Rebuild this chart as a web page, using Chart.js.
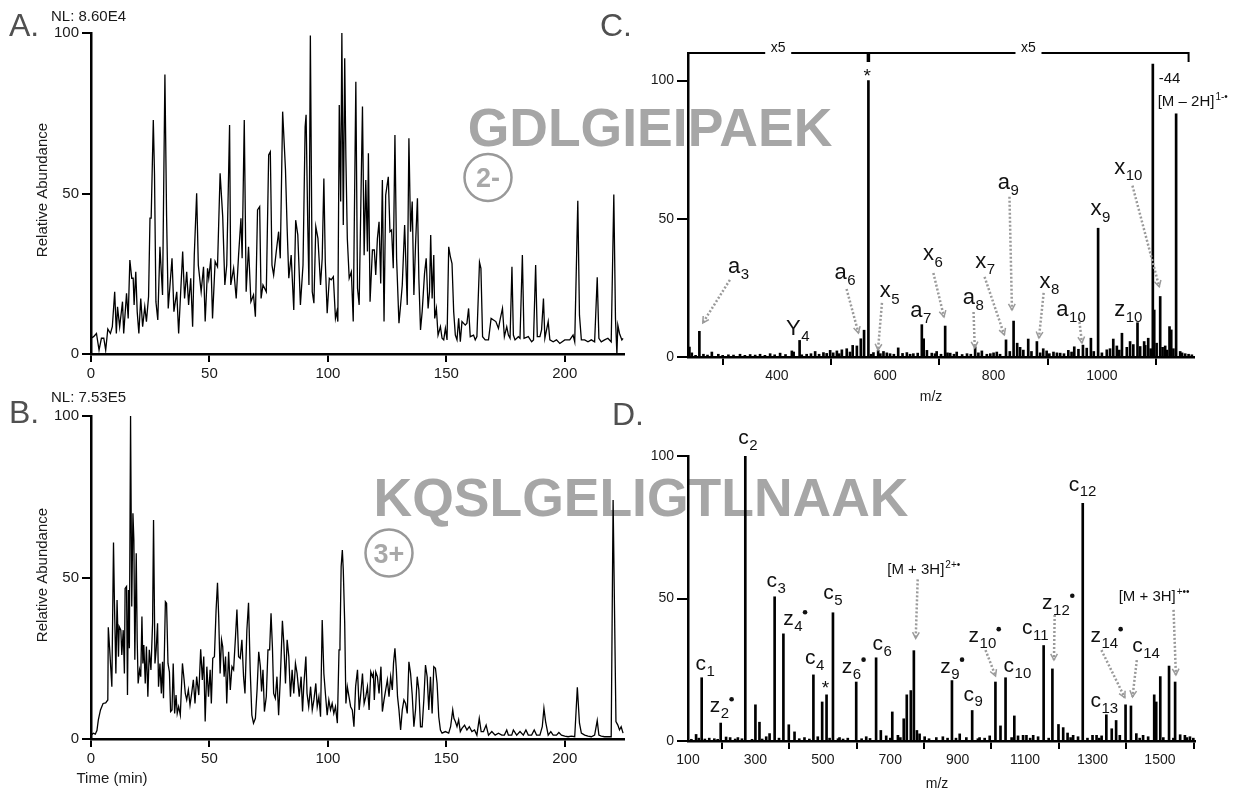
<!DOCTYPE html>
<html lang="en">
<head>
<meta charset="UTF-8">
<title>Chromatograms and MS/MS spectra</title>
<script src="https://cdn.jsdelivr.net/npm/chart.js"></script>
<style>
  body { margin: 0; background: #fff; }
  #page { position: relative; width: 1238px; height: 794px; overflow: hidden; }
  canvas { position: absolute; }
</style>
</head>
<body>
<div id="page">
  <canvas id="decor" width="1238" height="794" style="left:0;top:0"></canvas>
  <canvas id="chartA" width="640" height="390" style="left:0;top:0"></canvas>
  <canvas id="chartB" width="640" height="404" style="left:0;top:390px"></canvas>
  <canvas id="chartC" width="598" height="390" style="left:640px;top:0"></canvas>
  <canvas id="chartD" width="598" height="404" style="left:640px;top:390px"></canvas>
</div>
<script>
// ---- chromatogram A (GDLGIEIPAEK, 2-) ----
const timeA = [
  0, 1.1, 2.3, 3.4, 4.4, 5.4, 6.2, 7.1, 8.2, 9.0,
  10.0, 10.7, 11.2, 12.1, 13.3, 13.8, 15.0, 15.7, 16.4, 17.2,
  17.8, 18.2, 18.9, 19.5, 20.2, 21.0, 21.8, 22.7, 23.4, 24.3,
  24.9, 25.4, 26.3, 26.8, 27.4, 28.2, 29.1, 30.2, 31.2, 31.9,
  32.6, 33.3, 34.2, 35.0, 36.2, 37.0, 38.7, 39.5, 40.4, 41.2,
  42.1, 42.9, 43.6, 44.6, 45.3, 46.5, 47.5, 48.2, 49.2, 49.7,
  50.6, 51.3, 52.4, 53.4, 54.5, 55.6, 56.5, 57.3, 58.5, 59.0,
  60.2, 61.3, 62.3, 63.3, 63.8, 64.7, 65.5, 66.5, 67.5, 68.6,
  69.4, 70.3, 71.2, 71.8, 72.6, 74.0, 75.0, 75.7, 76.4, 77.1,
  78.2, 79.2, 79.9, 80.9, 82.1, 82.8, 83.5, 84.5, 85.6, 86.4,
  87.3, 88.4, 89.5, 90.4, 90.8, 91.5, 92.0, 92.6, 93.4, 94.1,
  94.9, 95.8, 96.9, 97.6, 98.3, 98.9, 99.7, 100.6, 101.4, 102.3,
  103.2, 103.8, 104.2, 104.8, 105.4, 105.9, 106.5, 107.1, 107.6, 108.2,
  109.0, 109.9, 110.7, 111.8, 112.5, 113.2, 114.6, 115.3, 116.0, 116.7,
  117.1, 117.8, 118.8, 119.6, 120.2, 120.9, 121.6, 122.3, 123.0, 123.7,
  124.4, 125.5, 126.2, 126.9, 127.6, 128.3, 129.0, 130.0, 130.7, 131.4,
  132.4, 133.5, 134.2, 134.9, 135.6, 136.3, 137.0, 137.8, 138.4, 139.1,
  139.8, 140.8, 141.5, 142.3, 142.9, 143.4, 144.0, 144.7, 145.1, 145.8,
  146.5, 147.5, 148.2, 148.9, 149.6, 150.3, 151.0, 151.7, 152.4, 153.1,
  153.8, 154.5, 155.2, 155.9, 156.6, 158.0, 158.7, 159.4, 160.1, 161.5,
  162.2, 162.9, 164.0, 164.6, 165.3, 166.4, 167.8, 168.9, 169.9, 170.9,
  172.0, 172.8, 173.7, 174.5, 175.5, 176.2, 176.9, 177.7, 178.3, 179.0,
  180.4, 181.1, 182.1, 182.8, 184.6, 186.0, 186.8, 187.7, 188.4, 189.5,
  190.2, 191.0, 191.6, 193.0, 193.7, 195.1, 196.5, 197.9, 200.0, 202.1,
  203.5, 204.2, 205.5, 206.2, 207.0, 208.4, 209.8, 211.2, 212.6, 213.7,
  214.4, 215.4, 216.8, 218.2, 219.6, 220.7, 221.4, 222.0, 222.4, 223.1,
  224.1, 224.6
];
const abundA = [
  4.9, 5.4, 6.4, 1.2, 4.9, 4.9, 1.2, 7.8, 6.4, 8.5,
  19.4, 6.4, 14.7, 8.5, 16.3, 6.4, 18.9, 11.1, 29.3, 23.6,
  23.6, 15.3, 25.6, 13.2, 6.4, 17.3, 8.5, 14.7, 10.1, 17.9,
  42.3, 42.3, 72.9, 56.3, 16.3, 10.6, 33.4, 18.4, 87.1, 43.3,
  14.2, 21.0, 29.8, 13.2, 19.4, 6.4, 31.9, 17.3, 25.6, 15.3,
  23.6, 8.5, 30.8, 50.1, 27.7, 19.4, 27.2, 10.1, 26.7, 23.6,
  29.8, 11.1, 28.8, 27.2, 56.3, 42.8, 21.5, 27.7, 71.3, 21.5,
  26.7, 17.3, 30.8, 42.3, 29.8, 72.9, 19.4, 33.4, 16.3, 18.4,
  11.6, 44.9, 45.9, 17.3, 21.5, 19.4, 62.0, 63.0, 27.7, 24.6,
  31.9, 38.1, 29.8, 75.5, 57.3, 39.1, 23.6, 30.8, 13.7, 41.7,
  37.1, 15.3, 27.7, 70.8, 74.5, 40.2, 21.5, 99.2, 19.4, 15.8,
  39.7, 36.0, 21.5, 29.8, 54.7, 28.8, 12.7, 23.6, 23.1, 24.1,
  11.1, 13.2, 10.1, 77.6, 47.5, 100, 40.2, 92.1, 61.0, 36.0,
  23.6, 25.6, 10.1, 84.8, 20.5, 15.3, 77.1, 30.8, 54.2, 31.9,
  62.5, 16.3, 32.4, 32.4, 24.6, 36.0, 41.2, 22.0, 54.2, 10.1,
  49.5, 55.2, 38.1, 38.6, 26.7, 68.2, 29.8, 9.6, 15.3, 21.5,
  40.2, 15.3, 67.2, 38.1, 47.5, 18.4, 34.0, 48.5, 23.6, 7.5,
  13.2, 25.1, 29.8, 14.2, 19.4, 37.1, 17.3, 30.8, 11.1, 14.2,
  5.9, 8.5, 4.9, 4.4, 8.0, 4.4, 33.4, 30.3, 28.2, 13.2,
  5.9, 4.4, 11.1, 3.8, 10.1, 9.0, 9.6, 14.2, 5.4, 5.9,
  4.4, 5.4, 28.6, 26.7, 5.4, 4.4, 4.4, 11.1, 10.6, 10.1,
  8.0, 11.1, 14.2, 5.4, 8.5, 5.9, 4.9, 27.2, 5.9, 4.4,
  5.4, 4.9, 30.8, 4.9, 5.4, 3.8, 4.4, 27.7, 5.4, 5.4,
  7.5, 17.3, 4.9, 10.1, 4.4, 3.8, 4.4, 3.3, 4.4, 4.4,
  5.9, 3.8, 47.7, 12.1, 4.4, 4.4, 3.8, 4.4, 3.8, 23.9,
  4.9, 3.8, 4.4, 4.9, 3.8, 49.7, 11.1, 0, 9.0, 6.4,
  4.4, 4.9
];

// ---- chromatogram B (KQSLGELIGTLNAAK, 3+) ----
const timeB = [
  0, 1.0, 1.8, 2.5, 3.1, 4.0, 5.1, 6.2, 7.1, 7.3,
  7.9, 8.8, 9.5, 9.9, 10.5, 11.0, 11.6, 11.9, 12.6, 13.0,
  13.6, 14.1, 14.4, 15.0, 15.4, 15.8, 16.2, 16.7, 17.2, 17.7,
  18.1, 18.5, 19.1, 19.5, 19.9, 20.5, 21.0, 21.5, 21.9, 22.3,
  22.9, 23.4, 24.0, 24.6, 25.3, 26.0, 26.4, 27.0, 27.5, 28.1,
  28.5, 29.1, 29.7, 30.2, 30.6, 31.4, 31.9, 32.5, 33.1, 33.6,
  34.2, 34.7, 35.3, 35.9, 36.4, 37.0, 37.7, 38.6, 39.3, 39.8,
  40.4, 41.1, 41.8, 42.5, 43.2, 43.9, 44.6, 45.5, 46.3, 47.0,
  47.6, 48.2, 48.9, 49.6, 50.3, 50.8, 51.4, 52.1, 52.8, 53.4,
  53.9, 54.5, 55.1, 55.6, 56.2, 56.8, 57.3, 58.1, 58.8, 59.5,
  60.2, 61.0, 61.6, 62.3, 63.0, 63.7, 64.4, 65.0, 65.8, 66.5,
  67.2, 67.9, 68.6, 69.4, 70.1, 70.8, 71.5, 72.0, 72.6, 73.2,
  74.0, 74.7, 75.4, 76.0, 76.6, 77.1, 77.8, 78.5, 79.2, 79.9,
  80.8, 81.4, 82.1, 82.8, 83.5, 84.2, 84.9, 85.6, 86.3, 87.0,
  87.9, 88.7, 89.3, 89.8, 90.7, 91.2, 91.9, 92.7, 93.4, 94.1,
  94.9, 95.5, 96.2, 96.9, 97.6, 98.3, 99.0, 99.7, 100.4, 101.1,
  101.8, 102.5, 103.2, 104.0, 104.7, 105.1, 105.6, 106.1, 106.5, 107.1,
  107.6, 108.2, 108.9, 109.6, 110.3, 111.0, 111.7, 112.5, 113.2, 113.9,
  114.6, 115.3, 116.0, 116.7, 117.4, 118.1, 118.8, 119.2, 119.6, 120.2,
  120.9, 121.6, 122.4, 123.0, 123.7, 124.4, 125.1, 125.8, 126.5, 127.2,
  127.7, 128.3, 128.9, 129.4, 130.0, 130.7, 131.4, 132.1, 132.8, 133.5,
  134.2, 134.9, 135.6, 136.3, 137.0, 137.7, 138.4, 139.1, 139.8, 140.5,
  141.2, 141.9, 142.6, 143.3, 144.0, 144.7, 145.4, 146.1, 146.8, 147.5,
  148.2, 149.6, 151.0, 151.8, 152.7, 153.2, 153.8, 154.5, 155.2, 155.9,
  156.6, 157.7, 158.7, 159.7, 160.8, 161.9, 162.9, 163.9, 164.7, 165.7,
  166.8, 167.8, 169.2, 170.6, 172.0, 173.4, 174.5, 175.5, 176.2, 177.6,
  178.3, 179.7, 181.1, 182.5, 183.6, 184.6, 186.0, 187.1, 188.1, 189.5,
  190.5, 191.2, 191.9, 193.0, 194.1, 195.1, 196.5, 197.5, 198.6, 200.0,
  201.4, 202.8, 204.2, 205.3, 206.2, 207.0, 208.4, 209.8, 211.2, 212.6,
  213.7, 214.4, 215.4, 216.8, 218.2, 219.6, 220.4, 221.6, 222.4, 223.1,
  223.8, 224.6
];
const abundB = [
  1.2, 1.8, 1.5, 2.6, 5.9, 9.0, 11.0, 11.2, 12.1, 34.6,
  27.6, 16.2, 60.8, 42.0, 20.3, 43.0, 25.5, 34.8, 33.7, 26.0,
  33.7, 20.3, 46.6, 47.2, 13.6, 46.1, 28.1, 100, 41.0, 69.9,
  61.6, 24.5, 57.5, 30.7, 17.2, 21.4, 19.3, 37.9, 23.4, 29.1,
  17.2, 28.6, 13.1, 27.6, 21.4, 35.8, 67.8, 23.4, 27.6, 35.8,
  16.2, 23.4, 14.1, 23.9, 12.6, 42.5, 42.0, 23.4, 20.8, 8.5,
  9.0, 23.4, 7.9, 13.6, 7.9, 10.0, 7.4, 23.4, 18.3, 14.1,
  12.1, 15.2, 10.5, 14.1, 18.3, 11.0, 19.3, 13.6, 27.8, 18.3,
  25.5, 5.4, 22.4, 13.1, 21.4, 11.0, 25.0, 25.5, 39.9, 48.4,
  37.9, 20.3, 30.7, 28.6, 19.3, 25.5, 11.0, 27.0, 15.2, 22.4,
  21.4, 31.7, 40.1, 25.5, 25.0, 30.7, 19.3, 14.1, 33.7, 42.2,
  21.4, 7.4, 4.9, 6.4, 15.2, 27.0, 22.4, 14.7, 21.4, 8.5,
  13.1, 27.6, 27.6, 38.9, 28.1, 14.1, 12.6, 19.3, 7.4, 18.3,
  36.6, 29.6, 17.2, 30.7, 25.5, 13.1, 21.4, 14.1, 23.4, 20.3,
  13.1, 19.3, 8.5, 16.2, 25.5, 14.1, 10.0, 16.2, 9.0, 12.1,
  17.2, 10.0, 13.1, 6.9, 36.8, 20.3, 13.6, 7.4, 12.1, 9.0,
  11.0, 7.9, 10.0, 4.9, 27.6, 29.6, 53.4, 58.5, 52.3, 35.8,
  11.0, 16.2, 13.1, 10.0, 9.0, 3.8, 16.2, 21.4, 9.0, 14.1,
  20.3, 11.0, 13.1, 16.2, 9.0, 20.8, 19.3, 20.3, 12.1, 20.8,
  19.3, 14.1, 22.4, 8.5, 12.1, 15.2, 18.3, 13.1, 19.3, 15.2,
  23.4, 28.1, 21.4, 13.1, 9.0, 2.8, 9.0, 12.1, 11.0, 7.9,
  23.9, 20.3, 13.6, 3.8, 9.0, 19.3, 15.2, 3.8, 3.8, 12.1,
  22.9, 19.3, 9.0, 19.3, 7.9, 22.4, 21.9, 17.2, 6.9, 2.8,
  1.8, 2.3, 1.8, 3.8, 9.0, 6.4, 5.4, 3.8, 5.9, 2.3,
  3.3, 4.3, 2.8, 3.8, 2.3, 2.8, 1.2, 6.4, 2.3, 2.3,
  4.3, 1.2, 2.3, 1.2, 1.8, 1.2, 1.2, 2.8, 1.2, 1.2,
  2.8, 1.2, 2.3, 1.2, 2.8, 1.2, 1.2, 2.8, 1.2, 1.2,
  3.8, 9.5, 5.4, 1.2, 2.3, 1.2, 1.2, 2.0, 1.2, 0.9,
  0.7, 0.9, 0.7, 16.0, 4.9, 1.8, 1.2, 0.9, 0.7, 1.2,
  5.7, 1.2, 0.9, 0.7, 0.7, 0.7, 74.0, 5.4, 4.3, 2.8,
  3.8, 1.8
];

// ---- spectrum C (2- precursor) ----
const peakMzC = [238.6, 257, 431, 442, 540, 555, 561, 569, 587, 624,
  667.6, 671, 710.7, 766, 823, 837, 843.6, 864, 880, 891.7,
  949, 965, 979.7, 993, 1021, 1037, 1052, 1065.7, 1078, 1085.5,
  1094, 1096.6, 1107.6, 1124.8, 1128, 1137];
const peakIntC = [3.6, 9.3, 1.8, 6, 4.2, 6.6, 9.7, 100, 2.4, 3.3,
  11.7, 6.6, 11.2, 3.7, 6.2, 13, 5, 6.5, 5.6, 3,
  3.7, 4.3, 6.8, 46.6, 6.5, 8.6, 5.6, 12.4, 5.6, 6.8,
  106, 17, 21.9, 11, 9.8, 88];
const noiseMzC = [243, 250, 264.5, 272, 280, 292, 300, 310.6, 320, 332,
  341, 350.7, 360, 369, 378, 387.6, 396, 406, 416, 427.7,
  446, 455, 463, 470.7, 478, 486, 492, 498.4, 504, 510.8,
  515, 520, 529, 535, 547.7, 574, 578.3, 591, 596.8, 603,
  609, 616, 632, 640, 646, 652, 660, 677, 686, 692,
  695, 703, 715, 720, 727, 732, 742, 751, 758, 772,
  778.4, 787.6, 794, 800, 806, 812, 830, 849, 855, 870,
  886, 898, 903, 910.6, 917, 923, 930, 938, 944, 956.7,
  972, 985, 1000, 1009, 1015, 1027.6, 1032, 1046, 1058, 1070.6,
  1080, 1090, 1101, 1112, 1116.8, 1120, 1132, 1144.5, 1148, 1153.7,
  1160, 1166];
const noiseIntC = [1.5, 0.6, 1.0, 0.7, 1.8, 1.0, 0.6, 0.8, 0.7, 1.0,
  0.6, 0.9, 0.7, 1.0, 0.6, 1.2, 0.8, 1.4, 0.9, 2.2,
  0.8, 1.0, 1.2, 2.0, 1.0, 1.6, 1.3, 2.4, 1.5, 2.2,
  1.2, 2.6, 3.0, 1.8, 4.0, 1.0, 1.6, 1.2, 2.0, 1.5,
  1.2, 1.0, 1.3, 1.6, 1.0, 1.2, 1.4, 2.4, 1.4, 1.2,
  2.0, 1.0, 1.5, 1.4, 1.0, 1.8, 0.9, 1.2, 1.0, 1.5,
  2.2, 1.0, 1.2, 1.5, 1.8, 1.0, 2.0, 3.5, 2.5, 2.0,
  1.5, 2.2, 1.2, 1.8, 1.5, 1.4, 1.2, 2.4, 1.8, 2.8,
  3.2, 2.0, 1.5, 2.6, 3.0, 4.0, 2.5, 3.5, 4.5, 3.8,
  4.2, 3.0, 5.0, 3.5, 4.0, 2.5, 3.0, 2.0, 1.5, 1.2,
  1.0, 0.8];

// ---- spectrum D (3+ precursor) ----
const peakMzD = [124, 140.6, 197, 213, 225, 270, 300, 312, 342, 357,
  383, 399, 416, 472, 498, 511, 530, 599, 658, 672,
  706, 740, 749, 761, 770, 779, 883, 943, 1012, 1027,
  1042, 1068, 1104, 1155, 1181, 1199, 1213, 1226, 1271, 1300,
  1341, 1357, 1370, 1398, 1414, 1430, 1483, 1489, 1501, 1527,
  1545, 1560, 1574];
const peakIntD = [2.3, 22.2, 6.3, 1.4, 1.2, 100, 12.7, 6.6, 2.6, 50.6,
  37.6, 5.7, 3.2, 23.2, 13.7, 16.2, 45, 20.7, 29.2, 3.7,
  10.2, 7.8, 16.2, 17.7, 31.7, 3.7, 21.2, 10.7, 20.7, 5.3,
  22.2, 8.8, 2, 33.5, 25.3, 5.8, 4.7, 2.8, 83.4, 2,
  9.2, 4.3, 7.2, 12.7, 12.3, 2.6, 16.2, 13.7, 22.6, 26.3,
  20.7, 2.2, 2];
const noiseMzD = [110, 132, 150, 163, 178, 188, 240, 248, 260, 290,
  320, 332, 370, 430, 445.5, 460, 485, 520, 545, 549.5,
  560, 574, 615, 628.7, 640, 688, 700, 722.7, 730, 787,
  802, 815, 836.6, 856, 870, 895, 906, 925.7, 960, 965,
  980, 995, 1060, 1079, 1094, 1115, 1124, 1138.5, 1170, 1235,
  1242.5, 1257, 1285, 1312, 1320, 1327, 1381, 1440, 1450, 1465,
  1510, 1540, 1580, 1589, 1599];
const noiseIntD = [0.6, 1.0, 0.7, 1.0, 0.8, 0.6, 0.7, 1.2, 0.8, 0.6,
  0.7, 1.5, 1.0, 0.8, 1.2, 0.7, 1.5, 1.0, 0.8, 1.2,
  0.7, 1.0, 0.8, 1.5, 0.9, 1.8, 1.0, 2.0, 1.2, 2.5,
  1.5, 0.8, 1.2, 1.5, 1.0, 1.0, 2.5, 1.2, 0.8, 1.2,
  1.0, 1.8, 1.2, 1.8, 2.0, 1.0, 2.0, 1.5, 1.0, 1.2,
  2.0, 1.5, 1.0, 2.0, 1.0, 1.8, 2.0, 1.0, 2.0, 1.5,
  1.2, 1.0, 1.2, 1.5, 1.0];

// ticks
const rtTicks = [0, 50, 100, 150, 200];
const pctTicks = [0, 50, 100];
const mzTicksC = [400, 600, 800, 1000];
const mzTicksD = [100, 300, 500, 700, 900, 1100, 1300, 1500];
const bracketC = [236, 569, 1160];

// fragment labels (m/z, rel. abundance where the label sits)
const ionsC = [
  { t: 'a', s: '3', mz: 321, v: 32.6 },
  { t: 'Y', s: '4', mz: 430.5, v: 10.9, cap: true },
  { t: 'a', s: '6', mz: 517.8, v: 30.4 },
  { t: 'x', s: '5', mz: 600.2, v: 23.6 },
  { t: 'a', s: '7', mz: 657.6, v: 16.7 },
  { t: 'x', s: '6', mz: 680.1, v: 37 },
  { t: 'a', s: '8', mz: 754.3, v: 21.4 },
  { t: 'x', s: '7', mz: 776.2, v: 34.4 },
  { t: 'a', s: '9', mz: 819.2, v: 63 },
  { t: 'x', s: '8', mz: 895, v: 27.2 },
  { t: 'a', s: '10', mz: 927.2, v: 17 },
  { t: 'x', s: '9', mz: 989, v: 53.3 },
  { t: 'z', s: '10', mz: 1033, v: 17 },
  { t: 'x', s: '10', mz: 1033, v: 68.3 }
];
const arrowsC = [
  [313.3, 27.9, 263.3, 12.3], [528.7, 24.6, 550.6, 8.7], [594, 19.6, 586.7, 2.5],
  [688.9, 30.4, 708.5, 14.5], [763.1, 16.3, 765.3, 3.3], [783.4, 29, 819.8, 8],
  [829.4, 58, 834, 17], [892.5, 23.2, 883.8, 6.9], [957.7, 14.1, 963.2, 5.1],
  [1056.4, 62, 1105.8, 25.4]
];
const ionsD = [
  { t: 'c', s: '1', mz: 137.7, v: 26.7 },
  { t: 'z', s: '2', mz: 180.2, v: 12, dot: true },
  { t: 'c', s: '2', mz: 264.3, v: 106.2 },
  { t: 'c', s: '3', mz: 348.7, v: 55.9 },
  { t: 'z', s: '4', mz: 398, v: 42.5, dot: true },
  { t: 'c', s: '4', mz: 462.6, v: 29 },
  { t: 'c', s: '5', mz: 517, v: 51.8 },
  { t: 'z', s: '6', mz: 571.6, v: 25.9, dot: true },
  { t: 'c', s: '6', mz: 662.6, v: 33.7 },
  { t: 'z', s: '9', mz: 863.7, v: 25.9, dot: true },
  { t: 'c', s: '9', mz: 933, v: 16.1 },
  { t: 'z', s: '10', mz: 947.8, v: 36.6, dot: true },
  { t: 'c', s: '10', mz: 1051.8, v: 26.1 },
  { t: 'c', s: '11', mz: 1106.5, v: 39.5 },
  { t: 'z', s: '12', mz: 1166, v: 48.3, dot: true },
  { t: 'c', s: '12', mz: 1245, v: 89.8 },
  { t: 'z', s: '14', mz: 1309.5, v: 36.6, dot: true },
  { t: 'c', s: '13', mz: 1309.5, v: 13.8 },
  { t: 'c', s: '14', mz: 1433.4, v: 33.1 }
];
const arrowsD = [
  [781.4, 56.7, 775.5, 36], [982.6, 31.9, 1012.3, 22.8], [1187.7, 44.2, 1185.6, 28.4],
  [1326.4, 31.9, 1395.7, 15.2], [1431.4, 28.4, 1418.6, 15.5], [1540.4, 46, 1547.3, 23.2]
];

const FONT = "'Liberation Sans', Arial, sans-serif";
Chart.defaults.font.family = FONT;

function axis(min, max, tickList, tickLen, size, fit) {
  return {
    type: 'linear', min: min, max: max, offset: false,
    border: { display: true, color: '#000', width: 2.5 },
    grid: { display: true, drawOnChartArea: false, drawTicks: true, tickLength: tickLen, color: '#000', lineWidth: 2 },
    ticks: { color: '#1a1a1a', font: { size: size }, padding: 3, maxRotation: 0, autoSkip: false,
      callback: v => String(v) },
    afterBuildTicks: s => { s.ticks = tickList.map(v => ({ value: v })); },
    afterFit: fit
  };
}

function baseOptions(pad) {
  return {
    responsive: false, animation: false, events: [],
    layout: { padding: { top: pad.top, right: pad.right, left: 0, bottom: 0 } },
    plugins: { legend: { display: false }, tooltip: { enabled: false } }
  };
}

function trace(id, times, values, box) {
  const opts = baseOptions(box);
  opts.scales = {
    x: axis(0, 225, rtTicks, 8, 15, s => { s.height = box.xh; }),
    y: axis(0, 100, pctTicks, 9, 15, s => { s.width = box.yw; })
  };
  return new Chart(document.getElementById(id), {
    type: 'line',
    data: { datasets: [{
      data: times.map((t, i) => ({ x: t, y: values[i] })),
      borderColor: '#000', borderWidth: 1.3, pointRadius: 0, tension: 0, fill: false
    }] },
    options: opts
  });
}

function sticks(mzA, intA, mzB, intB) {
  const pts = mzA.map((m, i) => ({ x: m, y: intA[i] }))
    .concat(mzB.map((m, i) => ({ x: m, y: intB[i] })));
  return pts.sort((a, b) => a.x - b.x);
}

function drawIon(ctx, x, y, l, size) {
  ctx.fillStyle = '#111';
  ctx.textAlign = 'left';
  ctx.textBaseline = 'alphabetic';
  ctx.font = size + 'px ' + FONT;
  const w = ctx.measureText(l.t).width;
  const base = y + (l.cap ? 0.36 : 0.26) * size;
  const x0 = x - w / 2;
  ctx.fillText(l.t, x0, base);
  let xe = x0 + w;
  const ss = Math.round(size * 0.7);
  ctx.font = ss + 'px ' + FONT;
  ctx.fillText(l.s, xe + 0.5, base + size * 0.28);
  xe += ctx.measureText(l.s).width + 0.5;
  if (l.dot) {
    ctx.beginPath();
    ctx.arc(xe + 2.5, base - size * 0.62, 2.3, 0, Math.PI * 2);
    ctx.fill();
  }
}

function drawArrow(ctx, x1, y1, x2, y2) {
  ctx.strokeStyle = '#9a9a9a';
  ctx.lineWidth = 2.5;
  ctx.setLineDash([2, 2]);
  ctx.beginPath(); ctx.moveTo(x1, y1); ctx.lineTo(x2, y2); ctx.stroke();
  ctx.setLineDash([]);
  const a = Math.atan2(y2 - y1, x2 - x1), h = 7;
  ctx.lineWidth = 1.5;
  ctx.beginPath();
  ctx.moveTo(x2 - h * Math.cos(a - 0.5), y2 - h * Math.sin(a - 0.5));
  ctx.lineTo(x2, y2);
  ctx.lineTo(x2 - h * Math.cos(a + 0.5), y2 - h * Math.sin(a + 0.5));
  ctx.stroke();
}

function star(ctx, x, y) {
  ctx.fillStyle = '#111';
  ctx.font = '19px ' + FONT;
  ctx.textAlign = 'center';
  ctx.textBaseline = 'alphabetic';
  ctx.fillText('*', x, y + 0.58 * 19);
}

function precursor(ctx, x, y, main, sup, align) {
  ctx.fillStyle = '#111';
  ctx.textBaseline = 'alphabetic';
  ctx.textAlign = 'left';
  ctx.font = '15px ' + FONT;
  const w = ctx.measureText(main).width;
  ctx.font = '10px ' + FONT;
  const ws = ctx.measureText(sup).width;
  const x0 = align === 'center' ? x - (w + ws + 1) / 2 : x;
  ctx.font = '15px ' + FONT;
  ctx.fillText(main, x0, y + 5.5);
  ctx.font = '10px ' + FONT;
  ctx.fillText(sup, x0 + w + 1, y - 0.5);
}

function labelPlugin(ions, arrows, size, extra) {
  return {
    id: 'ionLabels',
    afterDatasetsDraw(chart) {
      const ctx = chart.ctx, xs = chart.scales.x, ys = chart.scales.y;
      const px = m => xs.getPixelForValue(m), py = v => ys.getPixelForValue(v);
      ctx.save();
      arrows.forEach(a => drawArrow(ctx, px(a[0]), py(a[1]), px(a[2]), py(a[3])));
      ions.forEach(l => drawIon(ctx, px(l.mz), py(l.v), l, size));
      extra(ctx, px, py);
      ctx.restore();
    }
  };
}

function spectrum(id, data, xmin, xmax, ymax, xTicks, box, plugin) {
  const opts = baseOptions(box);
  opts.scales = {
    x: axis(xmin, xmax, xTicks, 8, 14, s => { s.height = box.xh; }),
    y: axis(0, ymax, pctTicks, 11, 14, s => { s.width = box.yw; })
  };
  return new Chart(document.getElementById(id), {
    type: 'bar',
    data: { datasets: [{ data: data, backgroundColor: '#000', borderWidth: 0, barThickness: 2 }] },
    options: opts,
    plugins: [plugin]
  });
}

trace('chartA', timeA, abundA, { top: 33, right: 16, yw: 91, xh: 36 });
trace('chartB', timeB, abundB, { top: 26, right: 16, yw: 91, xh: 55 });

spectrum('chartC', sticks(peakMzC, peakIntC, noiseMzC, noiseIntC), 236, 1170, 110, mzTicksC,
  { top: 53, right: 44, yw: 48, xh: 33 },
  labelPlugin(ionsC, arrowsC, 22, (ctx, px, py) => {
    const top = py(110);
    ctx.strokeStyle = '#000';
    ctx.lineWidth = 2;
    ctx.beginPath();
    ctx.moveTo(px(bracketC[0]), top);
    ctx.lineTo(px(bracketC[2]), top);
    ctx.lineTo(px(bracketC[2]), top + 9);
    ctx.stroke();
    ctx.lineWidth = 3.5;
    ctx.beginPath(); ctx.moveTo(px(bracketC[1]), top); ctx.lineTo(px(bracketC[1]), top + 9); ctx.stroke();
    ctx.font = '14px ' + FONT;
    ctx.textAlign = 'center';
    ctx.textBaseline = 'alphabetic';
    [0, 1].forEach(i => {
      const x = (px(bracketC[i]) + px(bracketC[i + 1])) / 2;
      ctx.fillStyle = '#fff';
      ctx.fillRect(x - 13, top - 3, 26, 6);
      ctx.fillStyle = '#111';
      ctx.fillText('x5', x, top - 1);
    });
    star(ctx, px(567), py(103.4));
    ctx.fillStyle = '#111';
    ctx.font = '15px ' + FONT;
    ctx.textAlign = 'left';
    ctx.textBaseline = 'alphabetic';
    ctx.fillText('-44', px(1105), py(101.1) + 5.5);
    precursor(ctx, px(1103), py(92.8), '[M \u2013 2H]', '1-\u2022', 'left');
  }));

spectrum('chartD', sticks(peakMzD, peakIntD, noiseMzD, noiseIntD), 100, 1604, 100, mzTicksD,
  { top: 66, right: 43, yw: 48, xh: 53 },
  labelPlugin(ionsD, arrowsD, 21, (ctx, px, py) => {
    star(ctx, px(508), py(20.2));
    precursor(ctx, px(799.3), py(60.6), '[M + 3H]', '2+\u2022', 'center');
    precursor(ctx, px(1482.8), py(51.2), '[M + 3H]', '+\u2022\u2022', 'center');
  }));

// ---- static text layer (under the charts) ----
const dc = document.getElementById('decor').getContext('2d');
function put(s, x, y, font, color, align) {
  dc.font = font + ' ' + FONT;
  dc.fillStyle = color;
  dc.textAlign = align || 'left';
  dc.textBaseline = 'alphabetic';
  dc.fillText(s, x, y);
}
function vertical(s, x, y) {
  dc.save();
  dc.translate(x, y);
  dc.rotate(-Math.PI / 2);
  dc.font = '15px ' + FONT;
  dc.fillStyle = '#1a1a1a';
  dc.textAlign = 'center';
  dc.textBaseline = 'middle';
  dc.fillText(s, 0, 0);
  dc.restore();
}
function charge(s, x, y) {
  dc.strokeStyle = '#999';
  dc.lineWidth = 2.5;
  dc.beginPath(); dc.arc(x, y, 23.5, 0, Math.PI * 2); dc.stroke();
  put(s, x, y + 9.5, 'bold 27px', '#a8a8a8', 'center');
}

put('A.', 9, 36, '32px', '#505050');
put('B.', 9, 423, '32px', '#505050');
put('C.', 600, 36, '32px', '#505050');
put('D.', 612, 425, '32px', '#505050');
put('NL: 8.60E4', 51, 21, '15px', '#1a1a1a');
put('NL: 7.53E5', 51, 402, '15px', '#1a1a1a');
vertical('Relative Abundance', 43, 190);
vertical('Relative Abundance', 43, 575);
put('Time (min)', 112, 783, '15px', '#1a1a1a', 'center');
put('m/z', 931, 401, '14px', '#1a1a1a', 'center');
put('m/z', 937, 788, '14px', '#1a1a1a', 'center');
put('GDLGIEIPAEK', 650, 146, 'bold 53.5px', '#a6a6a6', 'center');
put('KQSLGELIGTLNAAK', 641, 516, 'bold 53.5px', '#a6a6a6', 'center');
charge('2-', 488, 177.5);
charge('3+', 389, 553);
</script>
</body>
</html>
